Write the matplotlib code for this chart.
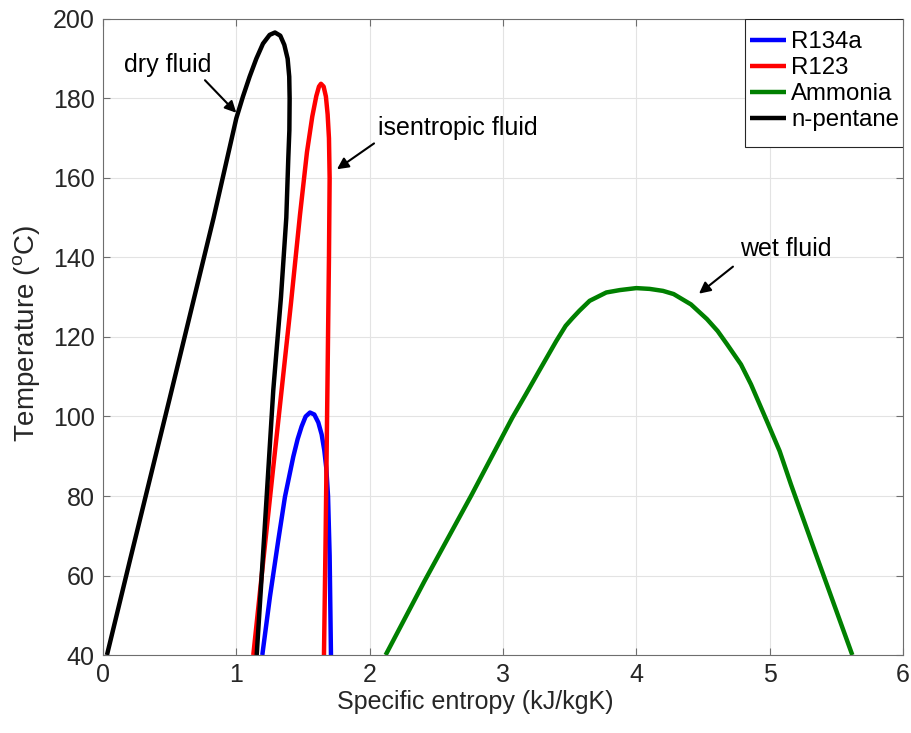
import matplotlib
matplotlib.use("Agg")
import matplotlib.pyplot as plt
from matplotlib.patches import Rectangle

plt.rcParams['font.family'] = ['Liberation Sans', 'DejaVu Sans']
plt.rcParams['mathtext.default'] = 'regular'

# ---- data ----
r134a_s = [1.195, 1.2525, 1.315, 1.365, 1.4275, 1.46, 1.49, 1.52, 1.5525, 1.585, 1.615, 1.64, 1.66, 1.675, 1.688, 1.70, 1.71]
r134a_T = [40, 54.7, 68.9, 79.8, 89.9, 94.3, 97.5, 100.0, 101.0, 100.5, 98.5, 95.5, 91.5, 87, 80, 65, 40]

r123_s = [1.1275, 1.20, 1.27, 1.34, 1.41, 1.4775, 1.53, 1.57, 1.60, 1.62, 1.635, 1.655, 1.672, 1.685, 1.695, 1.70, 1.695, 1.683, 1.67, 1.6575]
r123_T = [40, 63, 85, 106.7, 128.5, 150.7, 166.5, 175.5, 180.6, 183.0, 183.7, 183.0, 180.5, 176, 170, 160, 140, 106, 70, 40]

ammonia_s = [2.12, 2.41, 2.765, 3.07, 3.17, 3.27, 3.40, 3.47, 3.52, 3.573, 3.65, 3.775, 3.876, 4.0, 4.1, 4.2, 4.28,
             4.41, 4.53, 4.61, 4.68, 4.785, 4.86, 4.99, 5.075, 5.16, 5.34, 5.62]
ammonia_T = [40, 58.5, 80.3, 99.7, 105.5, 111.4, 119, 122.8, 124.7, 126.6, 129.1, 131.2, 131.8, 132.3, 132.1, 131.6, 130.8,
             128.2, 124.5, 121.5, 118.2, 113.1, 108.1, 98, 91.3, 82.9, 66, 40]

pentane_s = [0.03, 0.2, 0.5, 0.83, 1.0, 1.05, 1.10, 1.15, 1.20, 1.25, 1.29, 1.33, 1.36, 1.385, 1.397, 1.40, 1.398,
             1.39, 1.375, 1.335, 1.2775, 1.215, 1.153]
pentane_T = [40, 63.5, 104.5, 150, 175, 180.5, 185.5, 190, 193.8, 196, 196.6, 195.8, 193.5, 190, 185.5, 180, 172,
             165, 150, 130, 106.7, 73, 40]

series_names = ['R134a', 'R123', 'Ammonia', 'n-pentane']
x_ticks = [0, 1, 2, 3, 4, 5, 6]
y_ticks = [40, 60, 80, 100, 120, 140, 160, 180, 200]

fig = plt.figure(figsize=(9.12, 7.33), dpi=100)
ax = fig.add_axes([0.1129, 0.1064, 0.8772, 0.8677])

lw = 3.2
kw = dict(lw=lw, solid_joinstyle='round', solid_capstyle='butt')
ax.plot(r134a_s, r134a_T, color='#0000ff', label=series_names[0], **kw)
ax.plot(r123_s, r123_T, color='#ff0000', label=series_names[1], **kw)
ax.plot(ammonia_s, ammonia_T, color='#008000', label=series_names[2], **kw)
ax.plot(pentane_s, pentane_T, color='#000000', label=series_names[3], **kw)

ax.set_xlim(0, 6)
ax.set_ylim(40, 200)
ax.set_xticks(x_ticks)
ax.set_yticks(y_ticks)
ax.grid(True, color='#e3e3e3', lw=0.8)
ax.set_axisbelow(True)

fs = 18
for sp in ax.spines.values():
    sp.set_color('#6e6e6e')
    sp.set_linewidth(0.8)
ax.tick_params(direction='in', length=5, width=0.8, color='#6e6e6e',
               labelsize=fs, labelcolor='#262626', top=True, right=True, pad=6)
ax.set_xlabel('Specific entropy (kJ/kgK)', fontsize=fs, color='#262626')
ax.xaxis.set_label_coords(0.465, -0.055)
ax.set_ylabel('Temperature ($^{o}$C)', fontsize=20, color='#262626')
ax.yaxis.set_label_coords(-0.076, 0.506)

# legend frame drawn as a rectangle, entries without frame
ax.add_patch(Rectangle((0.8025, 0.799), 0.1975, 0.201, transform=ax.transAxes,
                       facecolor='white', edgecolor='#262626', lw=0.8, zorder=5))
leg = ax.legend(loc='upper right', bbox_to_anchor=(1.011, 1.0), fontsize=17.3, frameon=False,
                borderaxespad=0, handlelength=1.5, handletextpad=0.2,
                labelspacing=0.16, borderpad=0.52)
leg.set_zorder(6)
for h in leg.get_lines():
    h.set_linewidth(3.2)

arrow = dict(arrowstyle='-|>', color='black', lw=1.5, mutation_scale=17, shrinkA=0, shrinkB=0)
ax.annotate('', xy=(1.0, 176.4), xytext=(0.765, 184.6), arrowprops=arrow)
ax.text(0.4875, 188.4, 'dry fluid', fontsize=fs, ha='center', va='center', color='black')
ax.annotate('', xy=(1.755, 162.2), xytext=(2.033, 168.7), arrowprops=arrow)
ax.text(2.06, 172.6, 'isentropic fluid', fontsize=fs, ha='left', va='center', color='black')
ax.annotate('', xy=(4.47, 130.9), xytext=(4.725, 137.7), arrowprops=arrow)
ax.text(4.78, 142.1, 'wet fluid', fontsize=fs, ha='left', va='center', color='black')

fig.savefig('out.png', dpi=100)
